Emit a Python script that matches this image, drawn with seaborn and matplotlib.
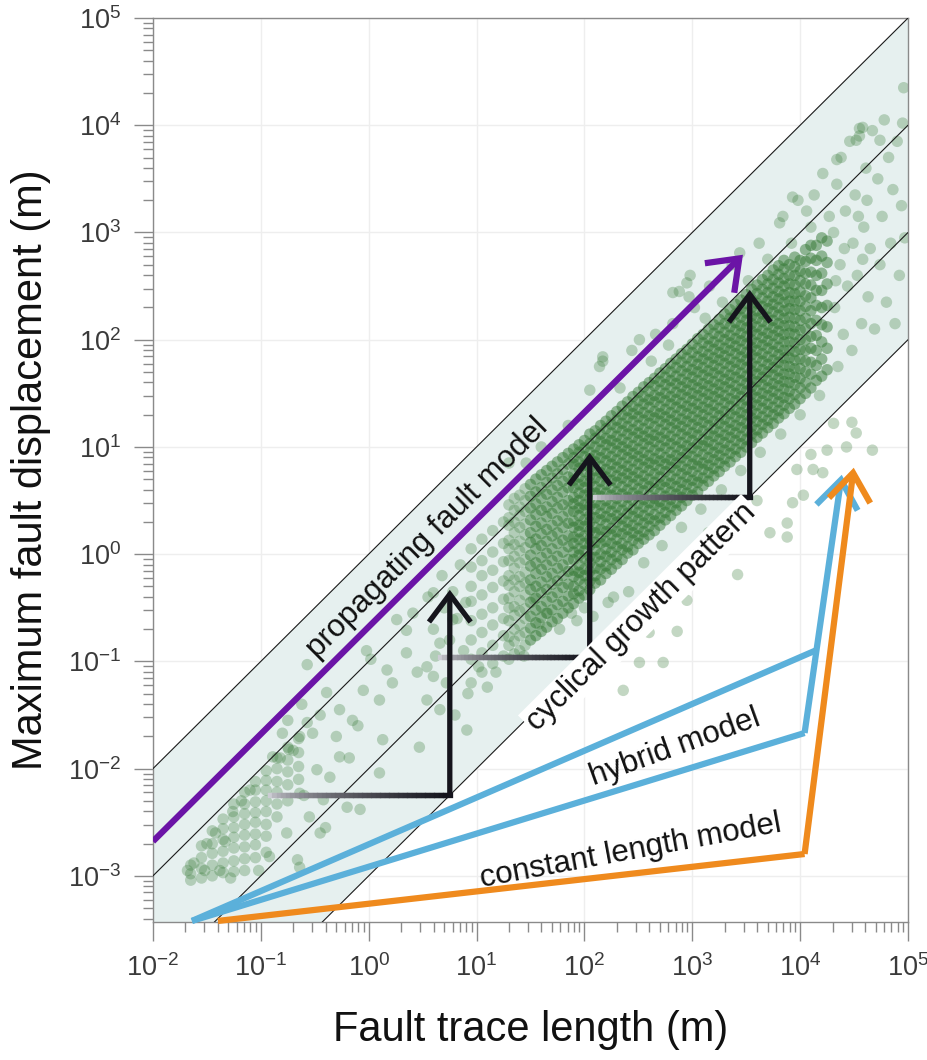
import numpy as np
import pandas as pd
import seaborn as sns
import matplotlib.pyplot as plt
from matplotlib.patches import FancyArrowPatch
from matplotlib.collections import LineCollection
from matplotlib.ticker import LogLocator

# fault population, (log10 length, log10 max displacement)
scattered_faults = [
    (-1.68, -2.95), (-1.62, -2.88), (-1.52, -2.95), (-1.50, -2.70), (-1.42, -2.60), (-1.38, -2.95),
    (-1.33, -2.68), (-1.28, -3.02), (-1.26, -2.40), (-1.18, -2.30), (-1.10, -2.20), (-1.02, -2.95),
    (-0.92, -2.82), (-0.82, -1.90), (-0.76, -2.60), (-0.74, -1.82), (-0.66, -2.85), (-0.64, -1.70),
    (-0.60, -2.25), (-0.55, -2.45), (-0.40, -2.55), (-0.45, -2.60), (-0.64, -2.92),
    (-0.57, -1.03), (-0.39, -1.29), (-0.27, -1.45), (-0.05, -1.27), (0.10, -1.36), (0.22, -1.20),
    (0.35, -0.92), (-0.02, -0.90), (-0.15, -1.55), (0.13, -1.73), (0.47, -1.80), (0.91, -1.64),
    (-0.27, -1.89), (-0.52, -1.67), (-0.48, -2.01), (-0.36, -2.08), (0.10, -2.04), (-0.20, -2.36),
    (-0.08, -2.38), (-0.64, -2.23), (0.54, -1.05), (0.60, -1.14), (0.66, -0.83), (0.35, -0.71),
    (0.41, -0.55), (0.26, -0.61), (0.78, -0.61), (0.17, -1.08), (0.54, -1.36), (0.66, -1.45),
    (-0.70, -1.83), (-0.80, -1.67), (-0.57, -1.57), (-0.89, -1.89), (-0.42, -2.29),
    (0.60, -0.36), (0.02, -0.98), (0.45, -1.10), (-0.75, -1.55), (-0.62, -1.40), (-0.45, -1.50),
    (-0.30, -1.70), (-0.18, -1.90), (-0.10, -1.60),
    (0.55, -0.40), (0.60, -0.70), (0.62, -0.95), (0.68, -0.20), (0.70, -0.50), (0.72, -1.20),
    (0.75, -0.80), (0.78, -0.35), (0.80, -1.50), (0.82, -0.60), (0.85, -0.10), (0.88, -0.90),
    (0.90, -0.45), (0.92, -1.30), (1.02, -1.05), (1.18, -1.10), (1.44, -0.95), (1.46, 0.85),
    (1.30, 0.85), (1.60, 1.00), (1.85, 1.20), (1.53, -0.42), (1.58, -0.65), (1.66, -0.55),
    (1.77, -0.70), (1.88, -0.55), (2.00, -0.50), (2.22, -0.45), (2.41, -0.35), (2.17, 1.80),
    (2.44, 1.90), (2.66, 2.05), (2.82, 2.15), (3.02, 2.30), (3.16, 2.50), (3.37, 2.70),
    (3.62, 2.90), (3.84, 3.15), (3.98, 3.30), (4.13, 3.35), (4.21, 3.55), (4.06, 3.20),
    (2.17, 1.84), (2.14, 1.75), (2.05, 1.53), (2.82, 2.44), (2.95, 2.53), (2.97, 2.40), (2.51, 2.00),
    (3.44, 2.81), (2.98, 2.60), (2.88, 2.45), (3.93, 3.33), (4.34, 3.68), (4.58, 3.98), (3.81, 3.09),
    (4.31, 3.00), (4.32, 2.30), (4.34, 3.45), (4.35, 1.75), (4.37, 2.70), (4.38, 3.70), (4.40, 2.05),
    (4.42, 3.20), (4.44, 2.50), (4.46, 3.85), (4.48, 1.90), (4.49, 2.90), (4.33, 2.55), (4.41, 2.85),
    (4.51, 3.35), (4.53, 2.60), (4.55, 3.90), (4.57, 2.15), (4.59, 3.05), (4.61, 3.60), (4.63, 2.40),
    (4.65, 2.85), (4.67, 3.95), (4.69, 2.10), (4.54, 3.15), (4.62, 3.30), (4.58, 2.75),
    (4.72, 3.50), (4.74, 2.70), (4.76, 3.15), (4.78, 4.05), (4.80, 2.35), (4.82, 3.70), (4.84, 2.90),
    (4.86, 3.40), (4.88, 2.15), (4.90, 3.85), (4.92, 2.60), (4.94, 3.25), (4.96, 4.35), (4.97, 2.95),
    (4.95, 4.02), (4.55, 3.97), (4.52, 3.86), (4.74, 3.86),
    (1.93, -0.62), (2.08, -0.58), (2.27, -0.40), (2.55, -0.08), (2.72, 0.08), (2.90, 0.25),
    (3.08, 0.42), (3.27, 0.60), (3.45, 0.78), (3.63, 0.95), (3.82, 1.12), (4.00, 1.30),
    (4.18, 1.48), (2.33, 1.55), (2.62, 1.80), (2.78, 1.95), (3.12, 2.20), (3.28, 2.35),
    (3.52, 2.55), (3.70, 2.75), (3.92, 2.90), (4.10, 3.05), (4.27, 3.15),
]

outlier_faults = [
    (3.42, -0.19), (2.95, -0.43), (2.86, -0.72), (2.73, -1.01), (2.51, -1.01), (2.36, -1.27),
    (2.60, -0.73), (1.10, -1.24), (3.88, 0.16), (3.72, 0.20), (4.52, 1.13), (4.67, 0.97),
    (4.43, 1.00), (4.25, 0.97), (4.48, 1.23), (4.31, 1.22), (4.10, 0.93), (4.21, 0.76),
    (3.97, 0.79), (3.93, 0.48), (3.88, 0.29), (4.03, 0.55), (4.12, 0.79), (3.60, 0.50),
    (3.30, 0.10), (3.15, 0.20),
]

# densely packed parts of the cloud, as (log10 length, [log10 displacements])
cloud_columns = [
    (-1.65, [-2.90, -2.98, -3.04]),
    (-1.55, [-2.72, -2.83, -2.93, -3.02]),
    (-1.45, [-2.58, -2.70, -2.79, -2.90, -3.00]),
    (-1.35, [-2.47, -2.56, -2.66, -2.77, -2.88, -2.97]),
    (-1.25, [-2.33, -2.45, -2.55, -2.64, -2.74, -2.86, -2.96]),
    (-1.15, [-2.22, -2.33, -2.42, -2.52, -2.62, -2.73, -2.84, -2.95]),
    (-1.05, [-2.12, -2.20, -2.31, -2.41, -2.50, -2.61, -2.71, -2.83]),
    (-0.95, [-2.02, -2.11, -2.20, -2.30, -2.40, -2.52, -2.63, -2.78]),
    (-0.85, [-1.90, -2.00, -2.12, -2.22, -2.33, -2.45]),
    (-0.75, [-1.80, -1.92, -2.03, -2.15, -2.30]),
    (-0.65, [-1.72, -1.85, -1.98, -2.10]),
    (0.95, [-1.20, -0.98, -0.80, -0.62, -0.44, -0.30, -0.12, 0.05]),
    (1.05, [-1.10, -0.92, -0.73, -0.56, -0.38, -0.20, -0.06, 0.14]),
    (1.15, [-1.02, -0.85, -0.66, -0.50, -0.31, -0.15, 0.02, 0.22]),
    (1.25, [-0.95, -0.76, -0.60, -0.42, -0.25, -0.07, 0.10, 0.30]),
    (1.30, [-0.98, -0.85, -0.77, -0.62, -0.50, -0.41, -0.29, -0.20, -0.06, 0.05, 0.13, 0.27, 0.34, 0.46]),
    (1.35, [-0.93, -0.81, -0.70, -0.57, -0.49, -0.35, -0.24, -0.13, -0.02, 0.09, 0.20, 0.30, 0.41, 0.52]),
    (1.40, [-0.90, -0.76, -0.66, -0.53, -0.43, -0.30, -0.21, -0.08, 0.03, 0.12, 0.25, 0.36, 0.44, 0.55]),
    (1.45, [-0.85, -0.73, -0.60, -0.51, -0.38, -0.27, -0.17, -0.05, 0.06, 0.18, 0.28, 0.40, 0.50, 0.61]),
    (1.50, [-0.80, -0.69, -0.58, -0.45, -0.33, -0.24, -0.11, -0.01, 0.11, 0.20, 0.32, 0.43, 0.54, 0.65]),
    (1.55, [-0.76, -0.64, -0.52, -0.41, -0.30, -0.18, -0.08, 0.05, 0.14, 0.26, 0.37, 0.47, 0.58, 0.70]),
    (1.60, [-0.72, -0.59, -0.49, -0.36, -0.26, -0.14, -0.03, 0.08, 0.19, 0.29, 0.41, 0.52, 0.62, 0.74]),
    (1.65, [-0.68, -0.55, -0.44, -0.33, -0.21, -0.10, 0.01, 0.12, 0.23, 0.35, 0.44, 0.56, 0.67, 0.78]),
    (1.70, [-0.63, -0.52, -0.40, -0.28, -0.18, -0.06, 0.05, 0.17, 0.27, 0.38, 0.49, 0.60, 0.71, 0.82]),
    (1.75, [-0.60, -0.47, -0.36, -0.25, -0.13, -0.02, 0.10, 0.20, 0.31, 0.43, 0.53, 0.64, 0.75, 0.86]),
    (1.80, [-0.55, -0.44, -0.31, -0.20, -0.10, 0.02, 0.13, 0.25, 0.35, 0.46, 0.58, 0.68, 0.79, 0.90]),
    (1.85, [-0.50, -0.39, -0.28, -0.16, -0.05, 0.07, 0.17, 0.29, 0.40, 0.50, 0.62, 0.72, 0.84, 0.94]),
    (1.90, [-0.46, -0.37, -0.30, -0.21, -0.15, -0.05, 0.02, 0.10, 0.16, 0.25, 0.31, 0.40, 0.47, 0.53, 0.62, 0.69, 0.75, 0.84, 0.90, 0.98]),
    (1.95, [-0.41, -0.34, -0.24, -0.17, -0.10, -0.01, 0.05, 0.14, 0.21, 0.27, 0.36, 0.43, 0.50, 0.57, 0.65, 0.72, 0.80, 0.86, 0.95, 1.02]),
    (2.00, [-0.38, -0.28, -0.20, -0.14, -0.04, 0.03, 0.10, 0.17, 0.26, 0.32, 0.41, 0.46, 0.55, 0.62, 0.68, 0.77, 0.83, 0.91, 0.99, 1.06]),
    (2.05, [-0.33, -0.25, -0.16, -0.08, -0.02, 0.08, 0.14, 0.22, 0.30, 0.36, 0.45, 0.52, 0.58, 0.67, 0.73, 0.81, 0.89, 0.95, 1.03, 1.12]),
    (2.10, [-0.27, -0.20, -0.13, -0.03, 0.04, 0.11, 0.20, 0.25, 0.34, 0.42, 0.48, 0.57, 0.63, 0.71, 0.78, 0.86, 0.92, 1.00, 1.08, 1.15]),
    (2.15, [-0.24, -0.14, -0.07, 0.00, 0.10, 0.16, 0.23, 0.32, 0.38, 0.46, 0.54, 0.60, 0.68, 0.76, 0.82, 0.90, 0.97, 1.05, 1.12, 1.20]),
    (2.20, [-0.18, -0.11, -0.02, 0.05, 0.12, 0.21, 0.28, 0.35, 0.43, 0.50, 0.57, 0.65, 0.72, 0.79, 0.87, 0.94, 1.02, 1.08, 1.17, 1.24]),
    (2.25, [-0.14, -0.05, 0.02, 0.10, 0.18, 0.24, 0.33, 0.40, 0.47, 0.55, 0.62, 0.69, 0.77, 0.84, 0.91, 0.99, 1.06, 1.13, 1.21, 1.29]),
    (2.30, [-0.09, -0.02, 0.07, 0.14, 0.21, 0.30, 0.36, 0.44, 0.52, 0.58, 0.67, 0.73, 0.81, 0.88, 0.96, 1.03, 1.10, 1.18, 1.25, 1.33]),
    (2.35, [-0.05, 0.04, 0.10, 0.19, 0.26, 0.33, 0.41, 0.49, 0.56, 0.63, 0.71, 0.78, 0.85, 0.93, 1.00, 1.07, 1.15, 1.22, 1.30, 1.38]),
    (2.40, [0.01, 0.07, 0.16, 0.23, 0.30, 0.38, 0.45, 0.53, 0.60, 0.68, 0.75, 0.82, 0.90, 0.97, 1.04, 1.12, 1.19, 1.27, 1.34, 1.42]),
    (2.45, [0.04, 0.13, 0.20, 0.27, 0.35, 0.42, 0.50, 0.57, 0.65, 0.72, 0.79, 0.87, 0.94, 1.01, 1.09, 1.16, 1.24, 1.31, 1.38, 1.47]),
    (2.50, [0.10, 0.17, 0.24, 0.32, 0.39, 0.47, 0.54, 0.61, 0.69, 0.76, 0.84, 0.91, 0.98, 1.06, 1.13, 1.20, 1.28, 1.35, 1.43, 1.51]),
    (2.55, [0.14, 0.21, 0.29, 0.36, 0.44, 0.51, 0.59, 0.66, 0.73, 0.81, 0.88, 0.95, 1.03, 1.10, 1.17, 1.25, 1.32, 1.40, 1.47, 1.56]),
    (2.60, [0.18, 0.26, 0.33, 0.41, 0.48, 0.55, 0.63, 0.70, 0.78, 0.85, 0.92, 1.00, 1.07, 1.14, 1.22, 1.29, 1.37, 1.44, 1.52, 1.60]),
    (2.65, [0.22, 0.31, 0.37, 0.46, 0.52, 0.61, 0.67, 0.75, 0.83, 0.89, 0.97, 1.05, 1.11, 1.19, 1.27, 1.33, 1.42, 1.48, 1.57, 1.64]),
    (2.70, [0.27, 0.34, 0.43, 0.49, 0.57, 0.65, 0.72, 0.79, 0.87, 0.94, 1.01, 1.09, 1.16, 1.24, 1.31, 1.38, 1.46, 1.53, 1.61, 1.69]),
    (2.75, [0.32, 0.39, 0.46, 0.54, 0.62, 0.68, 0.77, 0.84, 0.90, 0.99, 1.06, 1.13, 1.21, 1.28, 1.35, 1.43, 1.50, 1.58, 1.65, 1.73]),
    (2.80, [0.36, 0.44, 0.51, 0.58, 0.66, 0.73, 0.81, 0.88, 0.95, 1.03, 1.10, 1.18, 1.25, 1.32, 1.40, 1.47, 1.55, 1.62, 1.70, 1.78]),
    (2.85, [0.41, 0.48, 0.56, 0.63, 0.70, 0.78, 0.85, 0.92, 1.00, 1.07, 1.15, 1.22, 1.29, 1.37, 1.44, 1.51, 1.59, 1.66, 1.74, 1.82]),
    (2.90, [0.45, 0.53, 0.60, 0.67, 0.75, 0.82, 0.90, 0.97, 1.04, 1.12, 1.19, 1.26, 1.34, 1.41, 1.49, 1.56, 1.63, 1.71, 1.79, 1.87]),
    (2.95, [0.50, 0.57, 0.65, 0.72, 0.79, 0.87, 0.94, 1.01, 1.09, 1.16, 1.24, 1.31, 1.38, 1.46, 1.53, 1.60, 1.68, 1.75, 1.83, 1.91]),
    (3.00, [0.55, 0.62, 0.69, 0.77, 0.84, 0.91, 0.99, 1.06, 1.13, 1.21, 1.28, 1.36, 1.43, 1.50, 1.58, 1.65, 1.72, 1.80, 1.88, 1.96]),
    (3.05, [0.58, 0.67, 0.73, 0.82, 0.88, 0.96, 1.03, 1.11, 1.18, 1.25, 1.33, 1.40, 1.48, 1.55, 1.62, 1.70, 1.77, 1.84, 1.92, 2.01]),
    (3.10, [0.64, 0.71, 0.79, 0.85, 0.93, 1.01, 1.07, 1.15, 1.23, 1.30, 1.37, 1.45, 1.52, 1.59, 1.67, 1.74, 1.82, 1.89, 1.97, 2.05]),
    (3.15, [0.68, 0.76, 0.83, 0.90, 0.98, 1.05, 1.12, 1.20, 1.27, 1.35, 1.42, 1.49, 1.57, 1.64, 1.71, 1.79, 1.86, 1.94, 2.01, 2.10]),
    (3.20, [0.73, 0.80, 0.88, 0.95, 1.02, 1.10, 1.17, 1.24, 1.32, 1.39, 1.47, 1.54, 1.61, 1.69, 1.76, 1.83, 1.91, 1.98, 2.06, 2.14]),
    (3.25, [0.77, 0.85, 0.92, 0.99, 1.07, 1.14, 1.22, 1.29, 1.36, 1.44, 1.51, 1.58, 1.66, 1.73, 1.81, 1.88, 1.95, 2.03, 2.11, 2.19]),
    (3.30, [0.82, 0.89, 0.97, 1.04, 1.11, 1.19, 1.26, 1.33, 1.41, 1.48, 1.56, 1.63, 1.70, 1.78, 1.85, 1.92, 2.00, 2.07, 2.15, 2.24]),
    (3.35, [0.86, 0.94, 1.01, 1.09, 1.16, 1.23, 1.31, 1.38, 1.45, 1.53, 1.60, 1.67, 1.75, 1.82, 1.90, 1.97, 2.04, 2.12, 2.20, 2.28]),
    (3.40, [0.91, 0.98, 1.06, 1.13, 1.20, 1.28, 1.35, 1.43, 1.50, 1.57, 1.65, 1.72, 1.79, 1.87, 1.94, 2.01, 2.09, 2.16, 2.24, 2.33]),
    (3.45, [0.95, 1.03, 1.10, 1.18, 1.25, 1.32, 1.40, 1.47, 1.54, 1.62, 1.69, 1.77, 1.84, 1.91, 1.99, 2.06, 2.13, 2.21, 2.29, 2.37]),
    (3.50, [1.00, 1.07, 1.15, 1.22, 1.30, 1.37, 1.44, 1.52, 1.59, 1.66, 1.74, 1.81, 1.88, 1.96, 2.03, 2.11, 2.18, 2.25, 2.34, 2.42]),
    (3.55, [1.04, 1.12, 1.19, 1.27, 1.34, 1.41, 1.49, 1.56, 1.63, 1.71, 1.78, 1.86, 1.93, 2.00, 2.08, 2.15, 2.22, 2.30, 2.38, 2.47]),
    (3.60, [1.09, 1.16, 1.24, 1.31, 1.39, 1.46, 1.53, 1.61, 1.68, 1.75, 1.83, 1.90, 1.97, 2.05, 2.12, 2.20, 2.27, 2.34, 2.43, 2.51]),
    (3.65, [1.13, 1.21, 1.28, 1.36, 1.43, 1.50, 1.58, 1.65, 1.72, 1.80, 1.87, 1.95, 2.02, 2.09, 2.17, 2.24, 2.31, 2.39, 2.47, 2.56]),
    (3.70, [1.18, 1.25, 1.33, 1.40, 1.48, 1.55, 1.62, 1.70, 1.77, 1.84, 1.92, 1.99, 2.06, 2.14, 2.21, 2.29, 2.36, 2.44, 2.52, 2.60]),
    (3.75, [1.22, 1.30, 1.37, 1.45, 1.52, 1.59, 1.67, 1.74, 1.81, 1.89, 1.96, 2.04, 2.11, 2.18, 2.26, 2.33, 2.40, 2.48, 2.56, 2.65]),
    (3.80, [1.27, 1.34, 1.42, 1.49, 1.57, 1.64, 1.71, 1.79, 1.86, 1.93, 2.01, 2.08, 2.15, 2.23, 2.30, 2.38, 2.45, 2.53, 2.61, 2.69]),
    (3.85, [1.31, 1.39, 1.46, 1.54, 1.61, 1.68, 1.76, 1.83, 1.90, 1.98, 2.05, 2.13, 2.20, 2.27, 2.35, 2.42, 2.50, 2.57, 2.66, 2.74]),
    (3.90, [1.36, 1.45, 1.52, 1.60, 1.68, 1.75, 1.83, 1.90, 1.98, 2.06, 2.13, 2.21, 2.29, 2.36, 2.44, 2.52, 2.60, 2.70]),
    (3.95, [1.40, 1.49, 1.58, 1.65, 1.73, 1.81, 1.89, 1.97, 2.05, 2.12, 2.20, 2.28, 2.36, 2.43, 2.51, 2.60, 2.68, 2.77]),
    (4.00, [1.45, 1.55, 1.64, 1.73, 1.82, 1.91, 2.00, 2.09, 2.18, 2.27, 2.36, 2.45, 2.55, 2.64, 2.74]),
    (4.05, [1.50, 1.60, 1.70, 1.80, 1.90, 2.00, 2.10, 2.20, 2.31, 2.41, 2.52, 2.62, 2.73, 2.84]),
    (4.10, [1.55, 1.68, 1.79, 1.92, 2.03, 2.15, 2.27, 2.39, 2.51, 2.63, 2.76, 2.88]),
    (4.15, [1.62, 1.76, 1.90, 2.04, 2.18, 2.32, 2.46, 2.60, 2.74, 2.88]),
    (4.20, [1.66, 1.82, 1.98, 2.14, 2.30, 2.46, 2.62, 2.78, 2.95]),
    (4.25, [1.72, 1.92, 2.12, 2.32, 2.52, 2.72, 2.92]),
]

# D/L ratios of the reference lines
ratios = [1.0, 1e-1, 1e-2, 1e-3]

# model paths (length m, displacement m)
propagating = [(1e-2, 2.1e-3), (2950, 620)]
cyclic_steps = [  # (start length, end length, displacement, top displacement)
    (0.121, 5.65, 5.69e-3, 0.465),
    (4.6, 112.0, 0.110, 8.8),
    (126.0, 3410.0, 3.42, 291.0),
]
hybrid_upper = [(0.023, 3.8e-4), (1.43e4, 0.128)]
hybrid_lower = [(0.023, 3.8e-4), (1.1e4, 0.0215), (2.43e4, 5.5)]
constant_len = [(0.040, 3.8e-4), (1.1e4, 1.6e-3), (3.14e4, 6.4)]

cols_df = pd.DataFrame([(lx, ly) for lx, lys in cloud_columns for ly in lys],
                       columns=['logL', 'logD'])
loose = pd.concat([pd.DataFrame(list(scattered_faults) + list(outlier_faults),
                                columns=['logL', 'logD']),
                   cols_df[cols_df['logL'] < 1.5]], ignore_index=True)
packed = cols_df[cols_df['logL'] >= 1.5].copy()
for df in (loose, packed):
    df['L'] = 10 ** df['logL']
    df['D'] = 10 ** df['logD']

sns.set_style('white')
plt.rcParams['font.family'] = ['Liberation Sans', 'DejaVu Sans']
plt.rcParams['mathtext.default'] = 'regular'

fig = plt.figure(figsize=(9.27, 10.6), dpi=100)
ax = fig.add_axes([0.1650, 0.1302, 0.8145, 0.8528])
ax.set_xscale('log')
ax.set_yscale('log')
ax.set_xlim(1e-2, 1e5)
ax.set_ylim(10 ** -3.43, 1e5)

ax.grid(True, which='major', color='#eeeeee', lw=1, zorder=0)

xx = np.array([1e-2, 1e5])
ax.fill_between(xx, ratios[-1] * xx, ratios[0] * xx, color='#e6f0ef', lw=0, zorder=1)

sns.scatterplot(data=packed, x='L', y='D', s=68, color='#367a36', alpha=0.5,
                edgecolor='none', ax=ax, zorder=2, legend=False)
sns.scatterplot(data=loose, x='L', y='D', s=68, color='#3b7d3b', alpha=0.3,
                edgecolor='none', ax=ax, zorder=2, legend=False)

for r in ratios:
    ax.plot(xx, r * xx, color='#1a1a1a', lw=0.8, zorder=3)


def arrow(p0, p1, color, lw):
    ax.add_patch(FancyArrowPatch(p0, p1, transform=ax.transData,
                                 arrowstyle='->,head_length=1.0,head_width=0.75',
                                 mutation_scale=20, color=color, lw=lw,
                                 shrinkA=0, shrinkB=0, zorder=6,
                                 capstyle='butt', joinstyle='miter'))


arrow(propagating[0], propagating[1], '#6b14a6', 4.5)

dark = np.array([0.08, 0.08, 0.11])
light = np.array([0.80, 0.80, 0.83])
for x0, x1, y0, y1 in cyclic_steps:
    xs = np.logspace(np.log10(x0), np.log10(x1), 41)
    segs = [[(xs[i], y0), (xs[i + 1], y0)] for i in range(40)]
    t = np.linspace(0, 1, 40) ** 0.6
    cols = light + (dark - light) * t[:, None]
    ax.add_collection(LineCollection(segs, colors=cols, linewidths=3.8,
                                     capstyle='projecting', zorder=5))
    arrow((x1, y0), (x1, y1), '#15141c', 3.8)

ax.plot(*zip(*hybrid_upper), color='#5bb0da', lw=4.5, zorder=6,
        solid_capstyle='butt', clip_on=False)
ax.plot(*zip(*hybrid_lower[:2]), color='#5bb0da', lw=4.5, zorder=6,
        solid_capstyle='butt', clip_on=False)
arrow(hybrid_lower[1], hybrid_lower[2], '#5bb0da', 4.5)
ax.plot(*zip(*constant_len[:2]), color='#ef8a1d', lw=4.5, zorder=6,
        solid_capstyle='butt', clip_on=False)
arrow(constant_len[1], constant_len[2], '#ef8a1d', 4.5)

txt = dict(fontsize=22.5, ha='center', va='center', rotation_mode='anchor',
           color='#111111', zorder=7)
ax.text(10 ** 0.549, 10 ** 0.151, 'propagating fault model', rotation=44.8, **txt)
ax.text(10 ** 2.53, 10 ** -0.585, 'cyclical growth pattern', rotation=44.8,
        bbox=dict(facecolor='white', edgecolor='none', pad=1.5), **txt)
ax.text(10 ** 2.838, 10 ** -1.807, 'hybrid model', rotation=19.8, **txt)
ax.text(10 ** 2.43, 10 ** -2.776, 'constant length model', rotation=10.5, **txt)

ax.xaxis.set_major_locator(LogLocator(base=10, numticks=20))
ax.xaxis.set_minor_locator(LogLocator(base=10, subs=np.arange(2, 10), numticks=20))
ax.yaxis.set_major_locator(LogLocator(base=10, numticks=20))
ax.yaxis.set_minor_locator(LogLocator(base=10, subs=np.arange(2, 10), numticks=20))
ax.tick_params(which='both', bottom=True, left=True, direction='out', width=1,
               color='#8a8a8a')
ax.tick_params(which='major', length=14, labelsize=19.5, labelcolor='#3a3a3a', pad=9)
ax.tick_params(which='minor', length=7)
for s in ax.spines.values():
    s.set_color('#8a8a8a')
    s.set_linewidth(1)

ax.set_xlabel('Fault trace length (m)', fontsize=30, color='#111111', labelpad=20)
ax.set_ylabel('Maximum fault displacement (m)', fontsize=30, color='#111111', labelpad=12)

fig.savefig('out.png', dpi=100)
